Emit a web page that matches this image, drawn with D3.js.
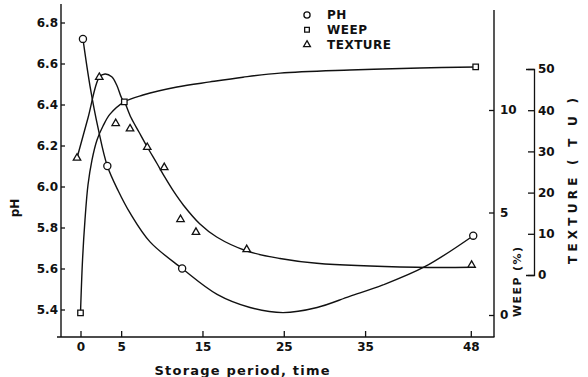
<!DOCTYPE html>
<html><head><meta charset="utf-8">
<script src="https://cdn.jsdelivr.net/npm/d3@7/dist/d3.min.js"></script>
<style>
html,body{margin:0;padding:0;background:#fff;}
svg text{font-family:"DejaVu Sans",sans-serif;font-weight:bold;fill:#111;}
</style></head><body>
<svg id="c" width="588" height="377"></svg>
<script>
// ---- tick labels ----
const xTicks = [0, 5, 15, 25, 35, 48];
const pHTicks = [5.4, 5.6, 5.8, 6.0, 6.2, 6.4, 6.6, 6.8];
const weepTicks = [0, 5, 10];
const textureTicks = [0, 10, 20, 30, 40, 50];
const legendNames = ["PH", "WEEP", "TEXTURE"];

// ---- pH (circles) ----
const phMarkT = [0.3, 3.3, 12.5, 48.3];
const phMarkV = [6.72, 6.10, 5.60, 5.76];
const phCurveT = [0.3, 1.17, 2.19, 3.3, 4.65, 6.09, 8.55, 12.5, 16.8, 20.85, 24.9, 29.1, 33.1, 37.2, 42.4, 48.3];
const phCurveV = [6.72, 6.49, 6.28, 6.10, 5.978, 5.871, 5.73, 5.60, 5.474, 5.41, 5.385, 5.41, 5.464, 5.52, 5.61, 5.76];

// ---- weep % (squares) ----
const weepMarkT = [0, 5.39, 48.6];
const weepMarkV = [0.1, 10.4, 12.1];
const weepCurveT = [0, 0.25, 0.55, 0.92, 1.41, 2.03, 2.77, 3.63, 5.39, 7.69, 11.87, 15.92, 19.98, 24.54, 33.14, 41.75, 48.6];
const weepCurveV = [0.1, 2.68, 4.63, 6.34, 7.56, 8.54, 9.22, 9.8, 10.4, 10.73, 11.12, 11.37, 11.6, 11.8, 11.95, 12.05, 12.1];

// ---- texture TU (triangles) ----
const texMarkT = [-0.43, 2.31, 4.33, 6.09, 8.21, 10.3, 12.3, 14.2, 20.44, 48.1];
const texMarkV = [28.4, 48.0, 36.8, 35.5, 31.0, 26.1, 13.5, 10.4, 6.2, 2.4];
const texCurveT = [-0.43, 0.92, 2.31, 3.01, 3.84, 4.45, 5.07, 5.39, 6.21, 7.19, 8.21, 9.37, 10.39, 11.5, 12.64, 14.69, 16.75, 20.44, 24.53, 29.05, 41.34, 48.1];
const texCurveV = [28.4, 38.1, 48.0, 48.8, 48.1, 46.1, 42.9, 42.06, 38.23, 34.71, 31.07, 27.18, 23.67, 20.15, 17.0, 12.38, 9.22, 5.83, 4.0, 2.84, 1.87, 1.87];

const ink = "#111";
const svg = d3.select("#c");
svg.append("rect").attr("width", 588).attr("height", 377).attr("fill", "#fff");

const x = d3.scaleLinear().domain([0, 48]).range([80.5, 470.8]);
const yPH = d3.scaleLinear().domain([5.4, 6.8]).range([309.5, 22.5]);
const yW = d3.scaleLinear().domain([0, 10]).range([315, 110]);
const yT = d3.scaleLinear().domain([0, 50]).range([275, 69]);

// frame lines
const frame = svg.append("g").attr("stroke", ink).attr("stroke-width", 1.4).attr("fill", "none");
frame.append("line").attr("x1", 61).attr("y1", 4).attr("x2", 61).attr("y2", 337);
frame.append("line").attr("x1", 57).attr("y1", 337).attr("x2", 494.5).attr("y2", 337);
frame.append("line").attr("x1", 494).attr("y1", 10).attr("x2", 494).attr("y2", 337);

function styleAxis(g, size) {
  g.selectAll("line").attr("stroke", ink).attr("stroke-width", 1.3);
  g.selectAll("path.domain").attr("stroke", ink).attr("stroke-width", 1.3);
  g.selectAll("text").attr("font-size", size).attr("fill", ink)
    .attr("font-family", '"DejaVu Sans",sans-serif').attr("font-weight", "bold");
}

// pH axis
const gPH = svg.append("g").attr("transform", "translate(61,0)")
  .call(d3.axisLeft(yPH).tickValues(pHTicks).tickFormat(d3.format(".1f")).tickSize(-4).tickPadding(3));
gPH.select(".domain").remove();
styleAxis(gPH, 12);

// x axis
const gX = svg.append("g").attr("transform", "translate(0,337)")
  .call(d3.axisBottom(x).tickValues(xTicks).tickSize(-6).tickPadding(5));
gX.select(".domain").remove();
styleAxis(gX, 12);

// weep axis
const gW = svg.append("g").attr("transform", "translate(494,0)")
  .call(d3.axisRight(yW).tickValues(weepTicks).tickSize(-5).tickPadding(6));
gW.select(".domain").remove();
styleAxis(gW, 12);

// texture axis
const gT = svg.append("g").attr("transform", "translate(534,0)")
  .call(d3.axisRight(yT).tickValues(textureTicks).tickSize(-6).tickSizeOuter(-8).tickPadding(4));
styleAxis(gT, 12);

// curves
const curve = d3.curveCatmullRom.alpha(0.5);
function drawCurve(ts, vs, ys) {
  const pts = ts.map((t, i) => [x(t), ys(vs[i])]);
  svg.append("path").attr("d", d3.line().curve(curve)(pts))
    .attr("fill", "none").attr("stroke", ink).attr("stroke-width", 1.4);
}
drawCurve(phCurveT, phCurveV, yPH);
drawCurve(weepCurveT, weepCurveV, yW);
drawCurve(texCurveT, texCurveV, yT);

// markers
function drawMarks(ts, vs, ys, type, size) {
  const sym = d3.symbol().type(type).size(size);
  svg.append("g").selectAll("path").data(ts).join("path")
    .attr("transform", (t, i) => `translate(${x(t)},${ys(vs[i])})`)
    .attr("d", sym).attr("fill", "#fff").attr("stroke", ink).attr("stroke-width", 1.3);
}
drawMarks(phMarkT, phMarkV, yPH, d3.symbolCircle, 40);
drawMarks(weepMarkT, weepMarkV, yW, d3.symbolSquare, 30);
drawMarks(texMarkT, texMarkV, yT, d3.symbolTriangle, 24);

// legend
const legSyms = [d3.symbolCircle, d3.symbolSquare, d3.symbolTriangle];
const legSizes = [30, 22, 20];
const lg = svg.append("g").attr("transform", "translate(307,15)");
legendNames.forEach((name, i) => {
  lg.append("path").attr("transform", `translate(0,${i * 14.8})`)
    .attr("d", d3.symbol().type(legSyms[i]).size(legSizes[i])())
    .attr("fill", "#fff").attr("stroke", ink).attr("stroke-width", 1.3);
  lg.append("text").attr("x", 20).attr("y", i * 14.8).attr("dy", "0.36em")
    .attr("font-size", 12).attr("letter-spacing", "0.5px").text(name);
});

// axis titles
svg.append("text").attr("transform", "translate(19,208) rotate(-90)")
  .attr("text-anchor", "middle").attr("font-size", 12).attr("font-weight", "normal").text("pH");
svg.append("text").attr("x", 242).attr("y", 375).attr("text-anchor", "middle")
  .attr("font-size", 13).attr("textLength", 175).attr("lengthAdjust", "spacing")
  .text("Storage period, time");
svg.append("text").attr("transform", "translate(521,282) rotate(-90)")
  .attr("text-anchor", "middle").attr("font-size", 11).attr("textLength", 70).attr("lengthAdjust", "spacing")
  .text("WEEP (%)");
svg.append("text").attr("transform", "translate(577,181) rotate(-90)")
  .attr("text-anchor", "middle").attr("font-size", 12).attr("font-weight", "normal")
  .attr("textLength", 166).attr("lengthAdjust", "spacing")
  .text("TEXTURE ( T U )");
</script>
</body></html>
